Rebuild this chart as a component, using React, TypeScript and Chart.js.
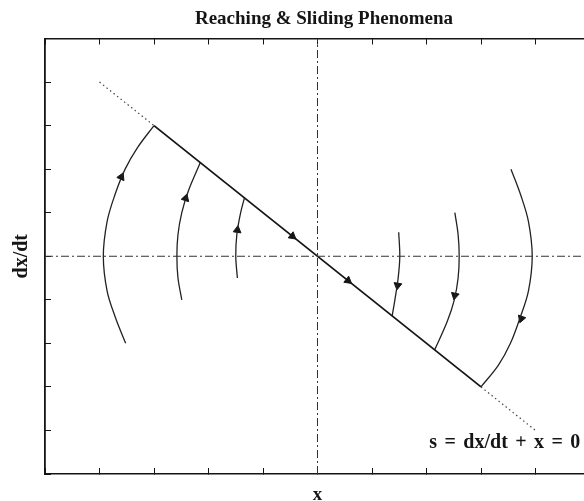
import { useEffect, useRef } from "react";
import { Chart, registerables } from "chart.js";

Chart.register(...registerables);

// Phase plane limits (x, dx/dt) and tick spacing
const AXIS_MIN = -5;
const AXIS_MAX = 5;
const AXIS_STEP = 1;

const TITLE = "Reaching & Sliding Phenomena";
const X_LABEL = "x";
const Y_LABEL = "dx/dt";
const SURFACE_LABEL = "s = dx/dt + x = 0";
// where the surface label ends (right edge, baseline), in data units
const SURFACE_LABEL_AT: [number, number] = [4.82, -4.41];

// Coordinate axes drawn through the origin
const verticalAxis: [number, number][] = [[0, -5], [0, 5]];
const horizontalAxis: [number, number][] = [[-5, 0], [5, 0]];

// Sliding surface s = 0 (dx/dt = -x): the sliding part and its dotted continuation
const slidingSegment: [number, number][] = [[-3, 3], [3, -3]];
const upperContinuation: [number, number][] = [[-4, 4], [-3, 3]];
const lowerContinuation: [number, number][] = [[3, -3], [4, -4]];

// Reaching trajectories left of the surface (moving upward)
const reachLeftOuter: [number, number][] = [
  [-3.52, -2.0], [-3.71, -1.4], [-3.86, -0.8], [-3.93, 0], [-3.86, 0.8],
  [-3.72, 1.4], [-3.53, 2.0], [-3.3, 2.5], [-3.0, 3.0],
];
const reachLeftMiddle: [number, number][] = [
  [-2.49, -1.0], [-2.56, -0.5], [-2.58, 0], [-2.56, 0.5], [-2.49, 1.0],
  [-2.37, 1.5], [-2.15, 2.15],
];
const reachLeftInner: [number, number][] = [
  [-1.47, -0.5], [-1.5, 0], [-1.48, 0.5], [-1.41, 1.0], [-1.34, 1.34],
];

// Reaching trajectories right of the surface (moving downward)
const reachRightInner: [number, number][] = [
  [1.49, 0.55], [1.51, 0], [1.48, -0.5], [1.42, -1.0], [1.37, -1.37],
];
const reachRightMiddle: [number, number][] = [
  [2.52, 1.0], [2.58, 0.5], [2.6, 0], [2.58, -0.5], [2.51, -1.0],
  [2.38, -1.5], [2.15, -2.15],
];
const reachRightOuter: [number, number][] = [
  [3.55, 2.0], [3.73, 1.4], [3.87, 0.8], [3.94, 0], [3.87, -0.8],
  [3.72, -1.4], [3.54, -2.0], [3.32, -2.5], [3.0, -3.0],
];

// Flow arrows: position on a trajectory and the direction of motion there
const arrowPoints: [number, number][] = [
  [-3.6, 1.82], [-2.42, 1.33], [-1.47, 0.6],
  [-0.46, 0.46], [0.56, -0.56],
  [1.47, -0.67], [2.52, -0.9], [3.74, -1.43],
];
const arrowHeadings: [number, number][] = [
  [0.36, 1], [0.25, 1], [0.11, 1],
  [1, -1], [1, -1],
  [-0.125, -1], [-0.17, -1], [-0.29, -1],
];

const FONT = "'Liberation Serif', 'Times New Roman', serif";
const INK = "#151515";

const toPoints = (pts: [number, number][]) => pts.map(([x, y]) => ({ x, y }));

const trajectory = (pts: [number, number][]) => ({
  data: toPoints(pts),
  showLine: true,
  borderColor: "#222",
  borderWidth: 1.3,
  pointRadius: 0,
  tension: 0.35,
  fill: false,
});

const surfaceLabel = {
  id: "surfaceLabel",
  afterDatasetsDraw(chart: any) {
    const { ctx, scales } = chart;
    ctx.save();
    ctx.font = `bold 20px ${FONT}`;
    ctx.fillStyle = INK;
    ctx.textAlign = "right";
    ctx.textBaseline = "alphabetic";
    // math-style spacing around the operators
    (ctx as any).wordSpacing = "2.4px";
    ctx.fillText(
      SURFACE_LABEL,
      scales.x.getPixelForValue(SURFACE_LABEL_AT[0]),
      scales.y.getPixelForValue(SURFACE_LABEL_AT[1])
    );
    ctx.restore();
  },
};

const inwardTicks = {
  display: true,
  drawOnChartArea: false,
  drawTicks: true,
  tickLength: -6,
  color: INK,
  lineWidth: 1,
};

export default function App() {
  const canvasRef = useRef<HTMLCanvasElement | null>(null);

  useEffect(() => {
    const canvas = canvasRef.current;
    if (!canvas) return;

    const chart = new Chart(canvas, {
      type: "scatter",
      data: {
        datasets: [
          {
            data: toPoints(verticalAxis),
            showLine: true,
            borderColor: "#333",
            borderWidth: 1,
            borderDash: [8, 3, 2, 3],
            pointRadius: 0,
          },
          {
            data: toPoints(horizontalAxis),
            showLine: true,
            borderColor: "#333",
            borderWidth: 1,
            borderDash: [8, 3, 2, 3],
            pointRadius: 0,
          },
          {
            data: toPoints(upperContinuation),
            showLine: true,
            borderColor: "#444",
            borderWidth: 1.2,
            borderDash: [1.5, 3],
            pointRadius: 0,
          },
          {
            data: toPoints(lowerContinuation),
            showLine: true,
            borderColor: "#444",
            borderWidth: 1.2,
            borderDash: [1.5, 3],
            pointRadius: 0,
          },
          {
            data: toPoints(slidingSegment),
            showLine: true,
            borderColor: INK,
            borderWidth: 1.8,
            pointRadius: 0,
          },
          trajectory(reachLeftOuter),
          trajectory(reachLeftMiddle),
          trajectory(reachLeftInner),
          trajectory(reachRightInner),
          trajectory(reachRightMiddle),
          trajectory(reachRightOuter),
          {
            data: toPoints(arrowPoints),
            showLine: false,
            pointStyle: "triangle",
            pointRadius: 4.5,
            pointBackgroundColor: INK,
            pointBorderColor: INK,
            pointBorderWidth: 1,
            rotation: (c: any) => {
              const h = arrowHeadings[c.dataIndex];
              if (!h) return 0;
              const xs = c.chart.scales.x;
              const ys = c.chart.scales.y;
              const px = h[0] * (xs.getPixelForValue(1) - xs.getPixelForValue(0));
              const py = h[1] * (ys.getPixelForValue(1) - ys.getPixelForValue(0));
              return (Math.atan2(px, -py) * 180) / Math.PI;
            },
          } as any,
        ],
      },
      options: {
        animation: false,
        responsive: false,
        devicePixelRatio: 1,
        layout: { padding: 0 },
        events: [],
        plugins: {
          legend: { display: false },
          tooltip: { enabled: false },
          title: {
            display: true,
            text: TITLE,
            color: INK,
            font: { family: FONT, size: 19, weight: "bold" },
            padding: { top: 7.2, bottom: 8.5 },
          },
        },
        scales: {
          x: {
            type: "linear",
            position: "bottom",
            min: AXIS_MIN,
            max: AXIS_MAX,
            ticks: { display: false, stepSize: AXIS_STEP },
            grid: inwardTicks,
            border: { display: true, color: INK, width: 1.5 },
            title: {
              display: true,
              text: X_LABEL,
              color: INK,
              font: { family: FONT, size: 19, weight: "bold" },
              padding: { top: 0, bottom: 13.6 },
            },
            afterFit(scale: any) {
              scale.height = 46;
            },
          },
          x2: {
            type: "linear",
            position: "top",
            min: AXIS_MIN,
            max: AXIS_MAX,
            ticks: { display: false, stepSize: AXIS_STEP },
            grid: inwardTicks,
            border: { display: true, color: INK, width: 1.5 },
            afterFit(scale: any) {
              scale.height = 0;
            },
          },
          y: {
            type: "linear",
            position: "left",
            min: AXIS_MIN,
            max: AXIS_MAX,
            ticks: { display: false, stepSize: AXIS_STEP },
            grid: inwardTicks,
            border: { display: true, color: INK, width: 1.8 },
            title: {
              display: true,
              text: Y_LABEL,
              color: INK,
              font: { family: FONT, size: 20, weight: "bold" },
              padding: { top: 10, bottom: 0 },
            },
            afterFit(scale: any) {
              scale.width = 45;
            },
          },
          y2: {
            type: "linear",
            position: "right",
            min: AXIS_MIN,
            max: AXIS_MAX,
            ticks: { display: false },
            grid: { display: false },
            border: { display: false },
            afterFit(scale: any) {
              scale.width = 58;
            },
          },
        },
      } as any,
      plugins: [surfaceLabel],
    });

    return () => chart.destroy();
  }, []);

  return (
    <div
      style={{
        position: "fixed",
        left: 0,
        top: 0,
        width: 648,
        height: 520,
        background: "#fff",
      }}
    >
      <canvas ref={canvasRef} width={648} height={520} style={{ display: "block" }} />
    </div>
  );
}
